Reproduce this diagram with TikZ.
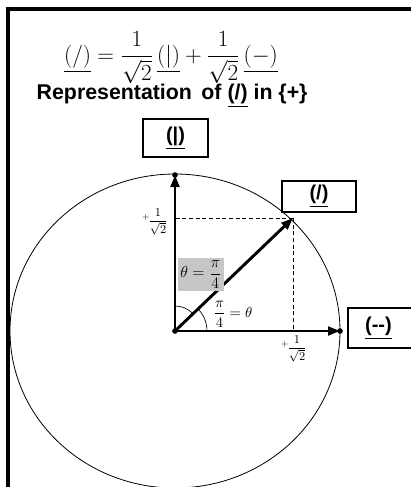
\documentclass[tikz,border=0pt]{standalone}
\usepackage{amsmath}
\usepackage{fontspec}
\setmainfont{Liberation Serif}
\setsansfont{Liberation Sans}
\usetikzlibrary{arrows.meta,calc}

\begin{document}
\begin{tikzpicture}[
  x=0.75pt,y=-0.75pt,
  font=\sffamily\bfseries,
  basis/.style={draw,line width=1.2pt,align=center,inner sep=0pt,font=\sffamily\bfseries\fontsize{15}{17}\selectfont},
  vec/.style={-{Triangle[length=9pt,width=6.5pt]},line width=2.2pt},
  proj/.style={densely dashed,line width=0.5pt},
  tipdot/.style={circle,fill,inner sep=1.5pt},
  small/.style={font=\fontsize{9}{10}\selectfont,inner sep=0pt}
]
\useasboundingbox (0,0) rectangle (411,487);
\clip (0,0) rectangle (411,487);
\draw[line width=2.3pt] (8,9) rectangle (440,540);

% state and title
\node (eq) at (171,58) {\fontsize{17}{19}\selectfont
  $\underline{(/)}=\dfrac{1}{\sqrt{2}}\,\underline{(|)}+\dfrac{1}{\sqrt{2}}\,\underline{(-)}$};
\node[anchor=west,font=\sffamily\bfseries\fontsize{16}{18}\selectfont] (title) at (32,96)
  {Representation\, of \underline{(/)} in \{+\}};

% axes and unit circle
\coordinate (o) at (175,331);
\coordinate (vtip) at (175,175);
\coordinate (htip) at (340,331);
\coordinate (dtip) at (293,218);
\draw[line width=0.6pt] (o) ellipse [x radius=165,y radius=157];
\draw[proj] (dtip) -- (dtip -| o);
\draw[proj] (dtip) -- (dtip |- o);
\draw[vec] (o) -- (vtip);
\draw[vec] (o) -- (htip);
\draw[vec] (o) -- (dtip);
\node[tipdot] at (o) {};
\node[tipdot] at (vtip) {};
\node[tipdot] at (htip) {};

% angles
\draw[line width=0.5pt] ($(o)+(0,-25)$) arc[start angle=-90,end angle=-44,radius=25];
\draw[line width=0.5pt] ($(o)+(23,-22.2)$) arc[start angle=-44,end angle=0,radius=32];
\node[fill=gray!45,inner sep=1.5pt,font=\fontsize{12}{14}\selectfont,anchor=west] (thtop) at (178,274.5)
  {$\theta=\dfrac{\pi}{4}$};
\node[inner sep=0pt,font=\fontsize{11}{13}\selectfont] (thbot) at (233,314)
  {$\dfrac{\pi}{4}=\theta$};

% components
\node[small] (cy) at (155,222) {$^{+}\!\dfrac{1}{\sqrt{2}}$};
\node[small] (cx) at (294,349) {$^{+}\!\dfrac{1}{\sqrt{2}}$};

% basis states
\node[basis,minimum width=48.75pt,minimum height=28.5pt] (up) at (175.5,138) {\underline{(|)}};
\node[basis,minimum width=55.5pt,minimum height=23.25pt] (diag) at (319,196.5) {\underline{(/)}};
\node[basis,minimum width=52pt,minimum height=30pt,anchor=west] (side) at (347,328) {\underline{({-}{-})}\hspace{6pt}};
\end{tikzpicture}
\end{document}
